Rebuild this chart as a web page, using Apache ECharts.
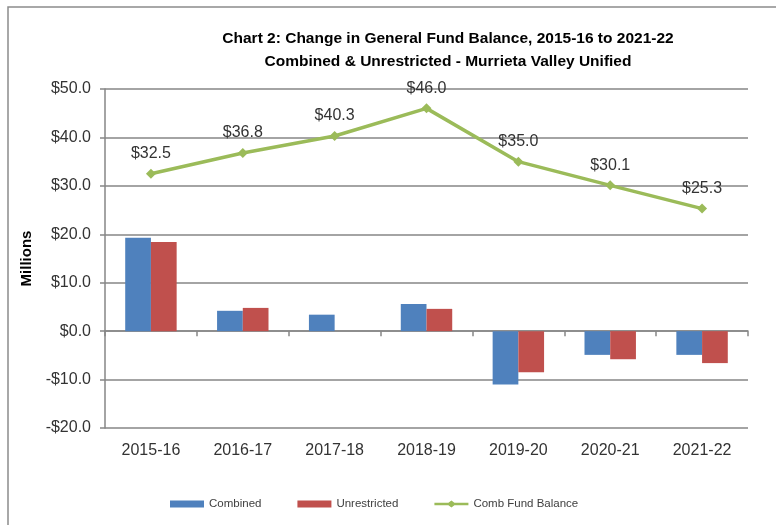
<!DOCTYPE html>
<html>
<head>
<meta charset="utf-8">
<script src="https://cdn.jsdelivr.net/npm/echarts@6/dist/echarts.min.js"></script>
<style>
  html, body { margin: 0; padding: 0; background: #fff; }
  #main { width: 776px; height: 525px; }
</style>
</head>
<body>
<div id="main"></div>
<script>
// data (millions)
var years = ['2015-16', '2016-17', '2017-18', '2018-19', '2019-20', '2020-21', '2021-22'];
var combined = [19.3, 4.2, 3.4, 5.6, -11.0, -4.9, -4.9];
var unrestricted = [18.4, 4.8, 0, 4.6, -8.5, -5.8, -6.6];
var fundBalance = [32.5, 36.8, 40.3, 46.0, 35.0, 30.1, 25.3];

var gray = '#868686';
var textColor = '#333';

var myChart = echarts.init(document.getElementById('main'));

function money(v) {
    return (v < 0 ? '-$' : '$') + Math.abs(v).toFixed(1);
}

var option = {
    backgroundColor: '#fff',
    animation: false,
    title: {
        text: 'Chart 2: Change in General Fund Balance, 2015-16 to 2021-22\nCombined & Unrestricted - Murrieta Valley Unified',
        left: 443,
        top: 22,
        textAlign: 'center',
        textStyle: {
            fontFamily: 'Liberation Sans',
            fontSize: 15.5,
            fontWeight: 'bold',
            color: '#000',
            lineHeight: 23
        }
    },
    graphic: [{
        type: 'rect',
        shape: { x: 8, y: 7, width: 800, height: 560 },
        style: { fill: 'none', stroke: '#8c8c8c', lineWidth: 1.5 },
        silent: true
    }],
    legend: {
        bottom: 10,
        left: 165,
        itemWidth: 34,
        itemHeight: 7,
        itemGap: 36,
        textStyle: { fontFamily: 'Liberation Sans', fontSize: 11.5, color: '#404040' },
        data: [
            { name: 'Combined', icon: 'rect' },
            { name: 'Unrestricted', icon: 'rect' },
            { name: 'Comb Fund Balance', icon: 'path://M0,2.2 L14,2.2 L17,0 L20,2.2 L34,2.2 L34,4.8 L20,4.8 L17,7 L14,4.8 L0,4.8 Z' }
        ]
    },
    grid: { left: 105, right: 28, top: 89, bottom: 97 },
    xAxis: [
        {
            type: 'category',
            data: years,
            axisLine: { onZero: true, lineStyle: { color: gray, width: 1.5 } },
            axisTick: { show: true, length: 5, lineStyle: { color: gray, width: 1.5 } },
            axisLabel: { show: false }
        },
        {
            type: 'category',
            data: years,
            position: 'bottom',
            axisLine: { show: false, onZero: false },
            axisTick: { show: false },
            axisLabel: { fontFamily: 'Liberation Sans', fontSize: 16, color: textColor, margin: 15 }
        }
    ],
    yAxis: {
        type: 'value',
        min: -20,
        max: 50,
        interval: 10,
        name: 'Millions',
        nameLocation: 'middle',
        nameGap: 70,
        nameTextStyle: { fontFamily: 'Liberation Sans', fontSize: 15, fontWeight: 'bold', color: '#000' },
        axisLine: { show: true, lineStyle: { color: gray, width: 1.5 } },
        axisTick: { show: true, length: 5, lineStyle: { color: gray, width: 1.5 } },
        splitLine: { lineStyle: { color: gray, width: 1.5 } },
        axisLabel: {
            fontFamily: 'Liberation Sans',
            fontSize: 16,
            color: textColor,
            margin: 14,
            formatter: money
        }
    },
    series: [
        {
            name: 'Combined',
            type: 'bar',
            data: combined,
            barGap: '0%',
            barCategoryGap: '44%',
            itemStyle: { color: '#4F81BD' }
        },
        {
            name: 'Unrestricted',
            type: 'bar',
            data: unrestricted,
            itemStyle: { color: '#C0504D' }
        },
        {
            name: 'Comb Fund Balance',
            type: 'line',
            data: fundBalance,
            symbol: 'diamond',
            symbolSize: 10,
            lineStyle: { color: '#9BBB59', width: 3.5 },
            itemStyle: { color: '#9BBB59' },
            label: {
                show: true,
                position: 'top',
                distance: 7,
                fontFamily: 'Liberation Sans',
                fontSize: 16,
                color: textColor,
                formatter: function (p) { return money(p.value); }
            },
            z: 5
        }
    ]
};

myChart.setOption(option);
</script>
</body>
</html>
